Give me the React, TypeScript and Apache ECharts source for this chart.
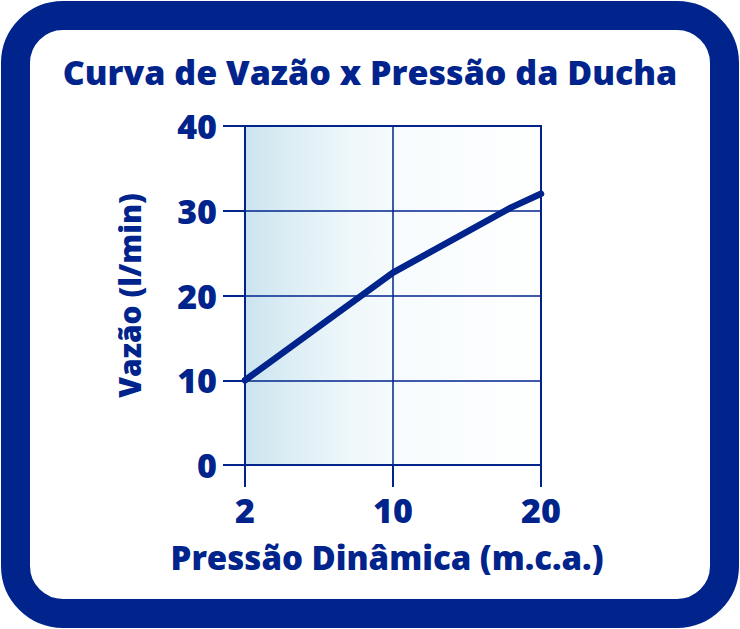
import * as echarts from 'echarts';
import { useEffect, useRef } from 'react';

const BLUE = '#00248c';

// pressure (m.c.a.) and flow (l/min)
const pressure = [2, 10, 18, 20];
const flow = [10, 22.7, 30.4, 32];
const xTickLabels = ['2', '10', '20'];
const yTicks = [0, 10, 20, 30, 40];

// the x axis is drawn with 2..10 and 10..20 as equal halves
const toAxis = (p: number) => (p <= 10 ? (p - 2) / 8 : 1 + (p - 10) / 10);

export default function App() {
  const chartRef = useRef<HTMLDivElement>(null);

  useEffect(() => {
    if (!chartRef.current) return;
    const chart = echarts.init(chartRef.current, undefined, { renderer: 'svg' });
    const font = 'Open Sans';

    chart.setOption({
      animation: false,
      backgroundColor: 'transparent',
      title: {
        text: 'Curva de Vazão x Pressão da Ducha',
        left: 'center',
        top: 50,
        textStyle: { color: BLUE, fontFamily: font, fontWeight: 800, fontSize: 34 },
      },
      grid: {
        left: 245,
        right: 199,
        top: 126,
        bottom: 164,
        show: true,
        borderColor: BLUE,
        borderWidth: 2,
        backgroundColor: new echarts.graphic.LinearGradient(0, 0, 1, 0, [
          { offset: 0, color: '#cbe4ef' },
          { offset: 0.15, color: '#dcedf4' },
          { offset: 0.35, color: '#eef7fa' },
          { offset: 0.5, color: '#f6fbfd' },
          { offset: 1, color: '#ffffff' },
        ]),
      },
      xAxis: {
        type: 'value',
        min: 0,
        max: 2,
        interval: 1,
        name: 'Pressão Dinâmica (m.c.a.)',
        nameLocation: 'middle',
        nameGap: 76,
        nameTextStyle: {
          color: BLUE,
          fontFamily: font,
          fontWeight: 800,
          fontSize: 33,
          padding: [0, 12, 0, 0],
        },
        axisLine: { lineStyle: { color: BLUE, width: 2 } },
        axisTick: { length: 22, lineStyle: { color: BLUE, width: 2 } },
        axisLabel: {
          margin: 28,
          color: BLUE,
          fontFamily: font,
          fontWeight: 800,
          fontSize: 34,
          formatter: (v: number) => xTickLabels[Math.round(v)] ?? '',
        },
        splitLine: { show: true, lineStyle: { color: BLUE, width: 1.5 } },
      },
      yAxis: {
        type: 'value',
        min: yTicks[0],
        max: yTicks[yTicks.length - 1],
        interval: 10,
        name: 'Vazão (l/min)',
        nameLocation: 'middle',
        nameGap: 101,
        nameRotate: 90,
        nameTextStyle: { color: BLUE, fontFamily: font, fontWeight: 800, fontSize: 30 },
        axisLine: { show: true, lineStyle: { color: BLUE, width: 2 } },
        axisTick: { show: true, length: 22, lineStyle: { color: BLUE, width: 2 } },
        axisLabel: { margin: 28, color: BLUE, fontFamily: font, fontWeight: 800, fontSize: 34 },
        splitLine: { show: true, lineStyle: { color: BLUE, width: 1.5 } },
      },
      series: [
        {
          type: 'line',
          data: pressure.map((p, i) => [toAxis(p), flow[i]]),
          showSymbol: false,
          lineStyle: { color: BLUE, width: 6.5, cap: 'round', join: 'round' },
        },
      ],
    });

    return () => chart.dispose();
  }, []);

  return (
    <div style={{ position: 'absolute', left: 0, top: 0, width: 740, height: 629, background: '#fff' }}>
      <div
        style={{
          position: 'absolute',
          left: 1,
          top: 1,
          width: 738,
          height: 627,
          boxSizing: 'border-box',
          border: `29px solid ${BLUE}`,
          borderRadius: 62,
          background: '#fff',
        }}
      />
      <div ref={chartRef} style={{ position: 'absolute', left: 0, top: 0, width: 740, height: 629 }} />
    </div>
  );
}
